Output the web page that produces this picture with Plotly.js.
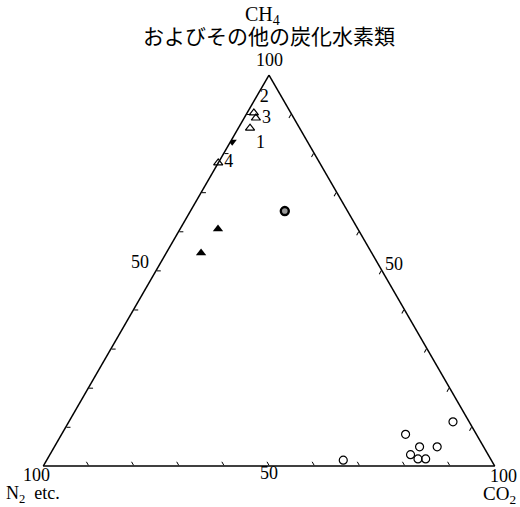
<!DOCTYPE html>
<html>
<head>
<meta charset="utf-8">
<script src="https://cdn.plot.ly/plotly-3.0.1.min.js"></script>
<style>html,body{margin:0;padding:0;background:#fff;}#chart{width:520px;height:507px;}</style>
</head>
<body>
<div id="chart"></div>
<script>
// Labelled open triangles (1-4)
const openTriIds = ['1', '2', '3', '4'];
const openTriCH4 = [86.4, 90.3, 89.0, 77.5];
const openTriN2 = [11.0, 8.2, 8.4, 22.5];
const openTriCO2 = [2.6, 1.5, 2.6, 0.0];
const openTriTextPos = ['bottom right', 'top right', 'middle right', 'middle right'];

// Filled inverted triangle
const downTriCH4 = [82.9];
const downTriN2 = [16.7];
const downTriCO2 = [0.4];

// Filled triangles
const fillTriCH4 = [60.6, 54.5];
const fillTriN2 = [31.0, 37.8];
const fillTriCO2 = [8.4, 7.7];

// Dotted circle
const dotCircCH4 = [65.2];
const dotCircN2 = [13.9];
const dotCircCO2 = [20.9];

// Open circles
const openCircCH4 = [11.3, 8.1, 4.9, 4.9, 2.9, 1.8, 1.8, 1.5];
const openCircN2 = [3.6, 15.7, 14.2, 10.3, 17.2, 16.1, 14.4, 32.8];
const openCircCO2 = [85.1, 76.2, 80.9, 84.8, 79.9, 82.1, 83.8, 65.7];

// Axis ticks and labels
const tickVals = [10, 20, 30, 40, 50, 60, 70, 80, 90];
const axisTop = 'CH<sub>4</sub>';
const axisTopSub = 'およびその他の炭化水素類';
const axisLeft = 'N<sub>2</sub>\u00A0 etc.';
const axisRight = 'CO<sub>2</sub>';
const cornerLabel = '100';
const midLabel = '50';

const serif = 'Liberation Serif, Times New Roman, serif';
const jp = 'Noto Sans CJK JP, sans-serif';

const traces = [
  {
    type: 'scatterternary', mode: 'markers+text',
    a: openTriCH4, b: openTriN2, c: openTriCO2,
    text: openTriIds, textposition: openTriTextPos,
    textfont: {family: serif, size: 18, color: 'black'},
    marker: {symbol: 'triangle-up-open', size: 8, color: 'black', line: {width: 1.2}},
    cliponaxis: false, hoverinfo: 'skip'
  },
  {
    type: 'scatterternary', mode: 'markers',
    a: downTriCH4, b: downTriN2, c: downTriCO2,
    marker: {symbol: 'triangle-down', size: 8, color: 'black'}
  },
  {
    type: 'scatterternary', mode: 'markers',
    a: fillTriCH4, b: fillTriN2, c: fillTriCO2,
    marker: {symbol: 'triangle-up', size: 9, color: 'black'}
  },
  {
    type: 'scatterternary', mode: 'markers',
    a: dotCircCH4, b: dotCircN2, c: dotCircCO2,
    marker: {symbol: 'circle', size: 8, color: '#999', line: {color: 'black', width: 2.4}}
  },
  {
    type: 'scatterternary', mode: 'markers',
    a: openCircCH4, b: openCircN2, c: openCircCO2,
    marker: {symbol: 'circle-open', size: 8, color: 'black', line: {width: 1.2}}
  }
];

function axis() {
  return {
    min: 0,
    linecolor: 'black', linewidth: 1.5,
    showgrid: false,
    ticks: 'inside', ticklen: 4, tickwidth: 1, tickcolor: 'black',
    tickmode: 'array', tickvals: tickVals,
    showticklabels: false,
    title: {text: ''}
  };
}

function ann(text, x, y, size, family, xanchor) {
  return {text: text, x: x, y: y, xref: 'paper', yref: 'paper', showarrow: false,
          xanchor: xanchor || 'center', yanchor: 'middle',
          font: {family: family || serif, size: size, color: 'black'}};
}

const layout = {
  width: 520, height: 507,
  margin: {l: 43, r: 25, t: 75, b: 41},
  paper_bgcolor: 'white',
  showlegend: false,
  ternary: {
    sum: 100,
    domain: {x: [0, 1], y: [0, 1]},
    bgcolor: 'white',
    aaxis: axis(), baxis: axis(), caxis: axis()
  },
  annotations: [
    ann(axisTop, 0.485, 1.153, 20),
    ann(axisTopSub, 0.5, 1.103, 21, jp),
    ann(cornerLabel, 0.5, 1.038, 18),
    ann(midLabel, 0.2146, 0.522, 18),
    ann(midLabel, 0.7765, 0.517, 18),
    ann(midLabel, 0.5, -0.018, 18),
    ann(cornerLabel, -0.015, -0.023, 18),
    ann(cornerLabel, 1.018, -0.026, 18),
    ann(axisLeft, -0.086, -0.074, 18, serif, 'left'),
    ann(axisRight, 1.011, -0.074, 19)
  ]
};

Plotly.newPlot('chart', traces, layout, {displayModeBar: false, staticPlot: true});
</script>
</body>
</html>
